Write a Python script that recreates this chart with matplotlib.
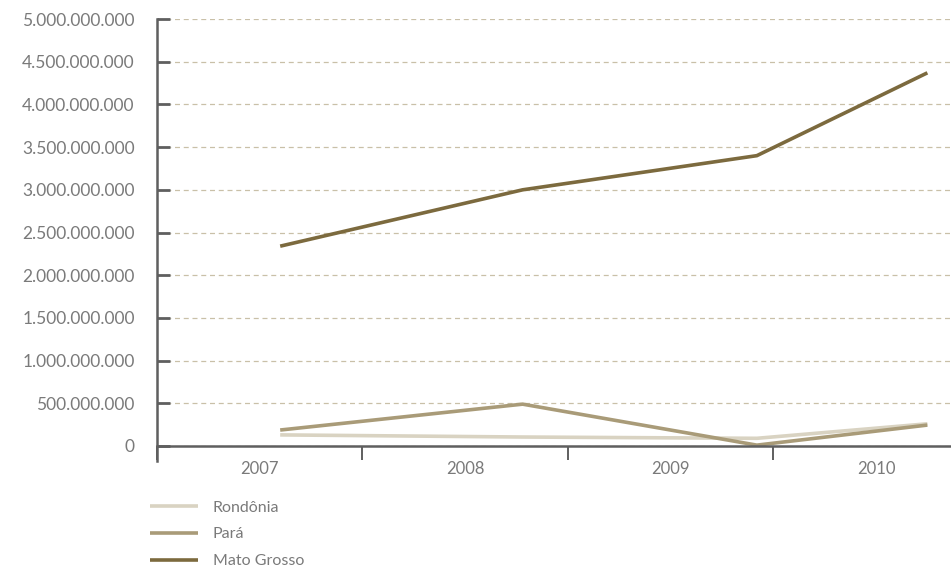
import matplotlib
matplotlib.use("Agg")
import matplotlib.pyplot as plt
from matplotlib.ticker import FuncFormatter, MultipleLocator

plt.rcParams["font.family"] = ["Lato", "DejaVu Sans"]

years = ["2007", "2008", "2009", "2010"]
# horizontal placement of each year's point inside its category band
year_pos = [0.60, 1.78, 2.92, 3.75]

rondonia = [130_000_000, 105_000_000, 90_000_000, 260_000_000]
para = [187_000_000, 490_000_000, 10_000_000, 245_000_000]
mato_grosso = [2_340_000_000, 3_000_000_000, 3_400_000_000, 4_370_000_000]

series_names = ["Rondônia", "Pará", "Mato Grosso"]
series_colors = ["#d9d3c2", "#a99b78", "#7c6a3e"]

AXIS_GRAY = "#5f5f5f"
TEXT_GRAY = "#7a7a7a"


def fmt_br(v, _pos):
    return f"{int(v):,}".replace(",", ".")


fig = plt.figure(figsize=(9.51, 5.68), dpi=100)
ax = fig.add_axes([0.165, 0.2148, 0.835, 0.7517])

for vals, name, color in zip([rondonia, para, mato_grosso], series_names, series_colors):
    ax.plot(year_pos, vals, color=color, lw=2.6, label=name, solid_capstyle="butt")

ax.set_ylim(0, 5_000_000_000)
ax.set_xlim(0, 3.865)
ax.yaxis.set_major_locator(MultipleLocator(500_000_000))
ax.yaxis.set_major_formatter(FuncFormatter(fmt_br))
ax.grid(axis="y", color="#c9c0a8", linestyle=(0, (4, 3)), linewidth=0.9)
ax.set_axisbelow(True)

# category boundaries get the ticks, year labels sit in the middle of each band
ax.set_xticks([0, 1, 2, 3])
ax.set_xticklabels([])
ax.set_xticks([0.5, 1.5, 2.5, 3.5], minor=True)
ax.set_xticklabels(years, minor=True)
ax.tick_params(axis="x", which="major", direction="out", length=10, width=1.4, color=AXIS_GRAY)
ax.tick_params(axis="x", which="minor", length=0, pad=11, labelsize=12, labelcolor=TEXT_GRAY)
ax.tick_params(axis="y", direction="in", length=9, width=2, color=AXIS_GRAY,
               pad=16, labelsize=12.5, labelcolor=TEXT_GRAY)

for side in ("top", "right"):
    ax.spines[side].set_visible(False)
for side in ("left", "bottom"):
    ax.spines[side].set_color(AXIS_GRAY)
    ax.spines[side].set_linewidth(1.8)
ax.spines["left"].set_bounds(-0.034 * 5_000_000_000, 5_000_000_000)
ax.spines["left"].set_clip_on(False)

leg = fig.legend(loc="upper left", bbox_to_anchor=(0.158, 0.119), frameon=False,
                 fontsize=11.5, handlelength=3.0, handletextpad=0.9,
                 labelspacing=0.79, borderpad=0, borderaxespad=0)
for txt in leg.get_texts():
    txt.set_color(TEXT_GRAY)

fig.savefig("out.png", dpi=100)
